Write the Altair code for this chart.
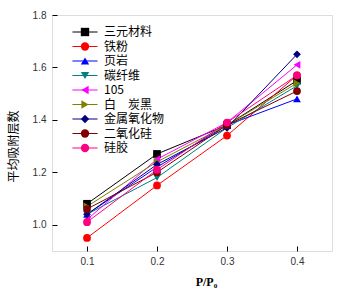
import altair as alt
import pandas as pd

# Relative pressure points
p_ratio = [0.1, 0.2, 0.3, 0.4]

# Series names (legend order)
series_names = ["三元材料", "铁粉", "页岩", "碳纤维", "105", "白\u3000炭黑", "金属氧化物", "二氧化硅", "硅胶"]

# Average number of adsorbed layers per material
layers_sanyuan = [1.08, 1.27, 1.38, 1.55]
layers_tiefen = [0.95, 1.15, 1.34, 1.57]
layers_yeyan = [1.04, 1.22, 1.38, 1.48]
layers_tanxianwei = [1.04, 1.18, 1.37, 1.53]
layers_105 = [1.02, 1.25, 1.39, 1.61]
layers_baitanhei = [1.07, 1.24, 1.38, 1.54]
layers_jinshu = [1.04, 1.23, 1.37, 1.65]
layers_sio2 = [1.06, 1.20, 1.38, 1.51]
layers_guijiao = [1.01, 1.21, 1.39, 1.57]

series_values = [layers_sanyuan, layers_tiefen, layers_yeyan, layers_tanxianwei,
                 layers_105, layers_baitanhei, layers_jinshu, layers_sio2, layers_guijiao]

colors = ["#000000", "#FF0000", "#0000FF", "#008080", "#FF00FF",
          "#808000", "#000080", "#800000", "#FF0080"]
shapes = ["square", "circle", "triangle-up", "triangle-down", "triangle-left",
          "triangle-right", "diamond", "circle", "circle"]

# line layer uses its own keys so its legend (line samples) stays separate
line_keys = [n + " -" for n in series_names]

rows = []
for name, key, vals in zip(series_names, line_keys, series_values):
    for x, y in zip(p_ratio, vals):
        rows.append({"s": name, "s2": key, "x": x, "y": y})
df = pd.DataFrame(rows)

font = "Liberation Sans"

x_enc = alt.X("x:Q", scale=alt.Scale(domain=[0.05, 0.45], nice=False),
              axis=alt.Axis(values=p_ratio, format=".1f", title="P/P₀",
                            titleFont="Liberation Serif", titleFontWeight="bold",
                            titleFontSize=12, titleX=154, titleY=30,
                            offset=-5, tickSize=5, domain=False, grid=False,
                            labelPadding=5, labelFontSize=10, labelColor="#333333",
                            labelFont=font, tickColor="black"))
y_enc = alt.Y("y:Q", scale=alt.Scale(domain=[0.9, 1.8], nice=False),
              axis=alt.Axis(values=[1.0, 1.2, 1.4, 1.6, 1.8], format=".1f",
                            title="平均吸附层数", titleFont="Noto Sans CJK SC",
                            titleFontWeight="normal", titleFontSize=12,
                            titleX=-37, titleY=131,
                            offset=-5, tickSize=5, domain=False, grid=False,
                            labelPadding=6, labelFontSize=10, labelColor="#333333",
                            labelFont=font, tickColor="black"))

legend_common = dict(title=None, orient="none", legendX=27, legendY=11, padding=0,
                     symbolSize=70, labelFontSize=12, labelFont="Noto Sans CJK SC",
                     labelOffset=13, rowPadding=2.5)

lines = alt.Chart(df).mark_line(strokeWidth=1).encode(
    x=x_enc, y=y_enc,
    stroke=alt.Stroke("s2:N", scale=alt.Scale(domain=line_keys, range=colors),
                      legend=alt.Legend(symbolType="M-3,0H3", symbolStrokeWidth=1,
                                        labelExpr="''", **legend_common)),
    detail="s:N",
)

points = alt.Chart(df).mark_point(filled=True, size=60, opacity=1).encode(
    x="x:Q", y="y:Q",
    fill=alt.Fill("s:N", scale=alt.Scale(domain=series_names, range=colors),
                  legend=alt.Legend(labelColor="black", symbolStrokeWidth=0,
                                    **legend_common)),
    shape=alt.Shape("s:N", scale=alt.Scale(domain=series_names, range=shapes)),
)

chart = (lines + points).properties(
    width=280, height=236,
    autosize=alt.AutoSizeParams(type="none"),
    padding={"left": 52, "top": 15, "right": 20, "bottom": 39},
).configure_view(stroke="black", strokeWidth=1.5).configure(background="white")

chart.save("out.html", embed_options={"renderer": "svg", "actions": False})
